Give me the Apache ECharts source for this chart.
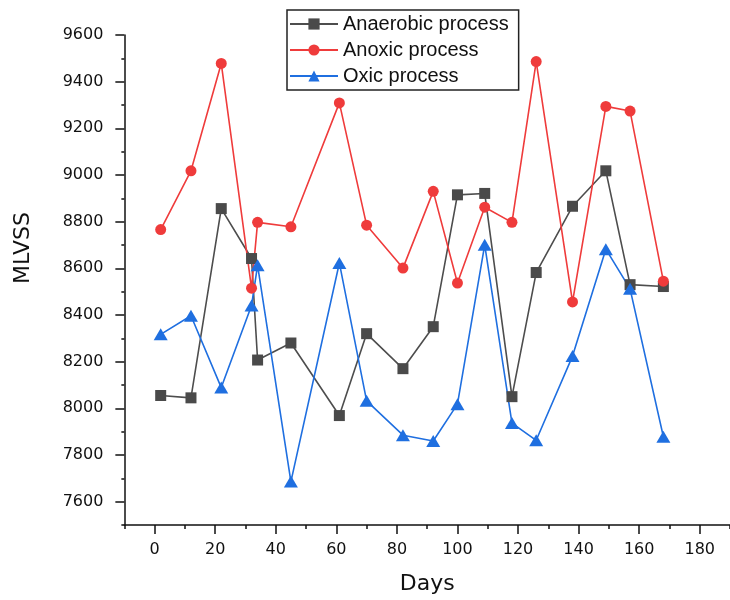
<!DOCTYPE html>
<html>
<head>
<meta charset="utf-8">
<title>MLVSS over time</title>
<script src="https://cdn.jsdelivr.net/npm/echarts@6/dist/echarts.min.js"></script>
<style>
  html, body { margin: 0; padding: 0; background: #fff; }
  #chart { width: 730px; height: 600px; }
</style>
</head>
<body>
<div id="chart"></div>
<script>
// Sampling days
const days = [2, 12, 22, 32, 34, 45, 61, 70, 82, 92, 100, 109, 118, 126, 138, 149, 157, 168];

// MLVSS readings per process stage
const anaerobic = [8055, 8045, 8856, 8642, 8207, 8280, 7969, 8320, 8170, 8350, 8915, 8921, 8050, 8582, 8866, 9018, 8530, 8522];
const anoxic    = [8766, 9018, 9478, 8515, 8797, 8778, 9309, 8785, 8601, 8930, 8537, 8862, 8797, 9486, 8456, 9294, 9274, 8545];
const oxic      = [8317, 8397, 8089, 8441, 8613, 7686, 8623, 8032, 7885, 7860, 8018, 8701, 7937, 7863, 8224, 8682, 8512, 7878];

// Tick values
const xMajorTicks = [0, 20, 40, 60, 80, 100, 120, 140, 160, 180];
const xMinorTicks = [-10, 10, 30, 50, 70, 90, 110, 130, 150, 170, 190];
const yMajorTicks = [7600, 7800, 8000, 8200, 8400, 8600, 8800, 9000, 9200, 9400, 9600];
const yMinorTicks = [7500, 7700, 7900, 8100, 8300, 8500, 8700, 8900, 9100, 9300, 9500];

const seriesNames = ['Anaerobic process', 'Anoxic process', 'Oxic process'];

const pairs = vals => days.map((d, i) => [d, vals[i]]);
const plain = v => String(v);

const tickFont = { fontFamily: 'DejaVu Sans', fontSize: 16, color: '#111' };

const chart = echarts.init(document.getElementById('chart'), null, { renderer: 'canvas' });

chart.setOption({
  backgroundColor: '#ffffff',
  animation: false,
  grid: { left: 124.35, top: 35, width: 613, height: 490, containLabel: false },
  legend: {
    orient: 'vertical',
    left: 287,
    top: 10,
    data: seriesNames,
    itemWidth: 48,
    itemHeight: 14,
    itemGap: 6,
    padding: [4, 10, 4, 2],
    borderColor: '#222',
    borderWidth: 1.5,
    backgroundColor: '#fff',
    textStyle: { fontFamily: 'Liberation Sans', fontSize: 20, color: '#111', lineHeight: 20 }
  },
  xAxis: [
    {
      type: 'value', min: -10, max: 190,
      name: 'Days', nameLocation: 'middle', nameGap: 48,
      nameTextStyle: { fontFamily: 'DejaVu Sans', fontSize: 22, color: '#111' },
      axisLine: { show: true, onZero: false, lineStyle: { color: '#111', width: 1.5 } },
      axisTick: { show: true, customValues: xMajorTicks, length: 9, lineStyle: { color: '#111', width: 1.5 } },
      axisLabel: { customValues: xMajorTicks, margin: 17, formatter: plain, ...tickFont },
      splitLine: { show: false }
    },
    {
      type: 'value', min: -10, max: 190, position: 'bottom', offset: 0,
      axisLine: { show: false, onZero: false },
      axisTick: { show: true, customValues: xMinorTicks, length: 4, lineStyle: { color: '#111', width: 1.5 } },
      axisLabel: { show: false },
      splitLine: { show: false }
    }
  ],
  yAxis: [
    {
      type: 'value', min: 7500, max: 9600, position: 'left',
      name: 'MLVSS', nameLocation: 'middle', nameGap: 90,
      nameTextStyle: { fontFamily: 'DejaVu Sans', fontSize: 22, color: '#111', padding: [0, 0, 0, 64] },
      axisLine: { show: true, onZero: false, lineStyle: { color: '#111', width: 1.5 } },
      axisTick: { show: true, customValues: yMajorTicks, length: 9, lineStyle: { color: '#111', width: 1.5 } },
      axisLabel: { customValues: yMajorTicks, margin: 21, formatter: plain, ...tickFont },
      splitLine: { show: false }
    },
    {
      type: 'value', min: 7500, max: 9600, position: 'left', offset: 0,
      axisLine: { show: false, onZero: false },
      axisTick: { show: true, customValues: yMinorTicks, length: 3, lineStyle: { color: '#111', width: 1.5 } },
      axisLabel: { show: false },
      splitLine: { show: false }
    }
  ],
  series: [
    {
      name: seriesNames[0], type: 'line', xAxisIndex: 0, yAxisIndex: 0,
      data: pairs(anaerobic),
      symbol: 'rect', symbolSize: 11,
      lineStyle: { color: '#4d4d4d', width: 1.6 },
      itemStyle: { color: '#4a4a4a' }
    },
    {
      name: seriesNames[1], type: 'line', xAxisIndex: 0, yAxisIndex: 0,
      data: pairs(anoxic),
      symbol: 'circle', symbolSize: 11,
      lineStyle: { color: '#ef3b3b', width: 1.6 },
      itemStyle: { color: '#ef3b3b' }
    },
    {
      name: seriesNames[2], type: 'line', xAxisIndex: 0, yAxisIndex: 0,
      data: pairs(oxic),
      symbol: 'triangle', symbolSize: [14, 12],
      lineStyle: { color: '#1f6fe0', width: 1.6 },
      itemStyle: { color: '#1f6fe0' }
    }
  ]
});
</script>
</body>
</html>
